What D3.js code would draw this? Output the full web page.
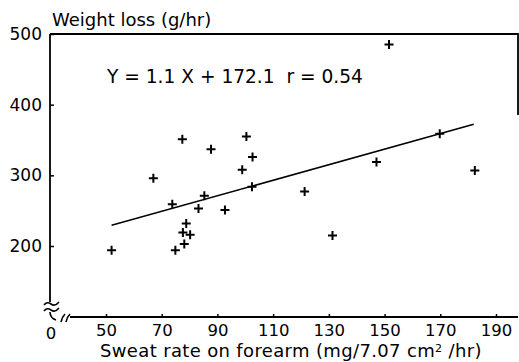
<!DOCTYPE html>
<html>
<head>
<meta charset="utf-8">
<script src="https://cdn.jsdelivr.net/npm/d3@7"></script>
<style>
body { margin: 0; background: white; }
text { font-family: "DejaVu Sans", sans-serif; fill: black; }
</style>
</head>
<body>
<div id="chart"></div>
<script>
// values
var sweat  = [52.0, 67.0, 73.8, 74.9, 77.4, 77.6, 78.1, 78.8, 80.2, 83.2, 85.3, 87.7,
              92.7, 98.9, 100.4, 102.4, 102.6, 121.3, 131.3, 147.1, 151.6, 169.8, 182.4]
var weight = [194, 296, 259, 194, 351, 219, 203, 232, 216, 253, 271, 337,
              251, 308, 355, 284, 326, 277, 215, 319, 485, 359, 307]
var xTicks = [50, 70, 90, 110, 130, 150, 170, 190]
var yTicks = [200, 300, 400, 500]
var fit = [1.1, 172.1]          // slope, intercept
var fitRange = [52, 182]
var equation = "Y = 1.1 X + 172.1  r = 0.54"

var width = 519, height = 362

var svg = d3.select("#chart").
			append("svg").
			attr("width", width).
			attr("height", height)

var x = d3.scaleLinear().domain([50, 190]).range([106, 496])
var y = d3.scaleLinear().domain([200, 500]).range([246, 34])

var axisX = 50, axisY = 317

//frame: top line and the short right edge
svg.append("path").
	attr("d", "M" + axisX + "," + y(500) + "H518V115").
	style("fill", "none").
	style("stroke", "black").
	style("stroke-width", 1.8)

//y axis line, stops above the break
svg.append("line").
	attr("x1", axisX).attr("x2", axisX).
	attr("y1", y(500)).attr("y2", 302).
	style("stroke", "black").
	style("stroke-width", 1.8)

//x axis line, starts after the break
svg.append("line").
	attr("x1", 70).attr("x2", 518).
	attr("y1", axisY).attr("y2", axisY).
	style("stroke", "black").
	style("stroke-width", 1.8)

//break marks
var brk = svg.append("g").
			style("fill", "none").
			style("stroke", "black").
			style("stroke-width", 1.6)
brk.append("path").attr("d", "M44,305 q3,-4 7,-1 t8,-2")
brk.append("path").attr("d", "M44,311 q3,-4 7,-1 t8,-2")
brk.append("path").attr("d", "M50,312 q0,6 6,8")
brk.append("path").attr("d", "M61,322 q1,-5 4,-8")
brk.append("path").attr("d", "M66,322 q1,-5 4,-8")

var gx = svg.append("g").
			attr("transform", "translate(0," + axisY + ")").
			call(d3.axisBottom(x).tickValues(xTicks).tickSize(-3).tickPadding(7))
gx.select(".domain").remove()
gx.selectAll("line").style("stroke-width", 1.5)
gx.selectAll("text").style("font-size", "16.5px").style("font-family", "DejaVu Sans")

var gy = svg.append("g").
			attr("transform", "translate(" + axisX + ",0)").
			call(d3.axisLeft(y).tickValues(yTicks).tickSize(-4).tickPadding(8))
gy.select(".domain").remove()
gy.selectAll("line").style("stroke-width", 1.5)
gy.selectAll("text").style("font-size", "17px").style("font-family", "DejaVu Sans")

//zero at the broken corner
svg.append("text").
	attr("x", 51).
	attr("y", 339).
	attr("text-anchor", "middle").
	style("font-size", "16.5px").
	text("0")

//axis titles
svg.append("text").
	attr("x", 52).
	attr("y", 26).
	style("font-size", "18px").
	text("Weight loss (g/hr)")

var xl = svg.append("text").
	attr("x", 100).
	attr("y", 357).
	style("font-size", "18px").
	style("letter-spacing", "0.35px")
xl.append("tspan").text("Sweat rate on forearm (mg/7.07 cm")
xl.append("tspan").text("2").attr("dy", -5).style("font-size", "11px")
xl.append("tspan").text(" /hr)").attr("dy", 5)

svg.append("text").
	attr("x", 107).
	attr("y", 83).
	style("font-size", "18.6px").
	style("white-space", "pre").
	text(equation)

//regression line
var line = d3.line().
			x(function(d){ return x(d) }).
			y(function(d){ return y(fit[0] * d + fit[1]) })
svg.append("path").
	attr("d", line(fitRange)).
	style("fill", "none").
	style("stroke", "black").
	style("stroke-width", 1.6)

//plus markers
var data = sweat.map(function(d, i){ return {x: d, y: weight[i]} })
var pts = svg.selectAll(".pt").
			data(data).
			enter().
			append("path").
			attr("class", "pt").
			attr("d", function(d){
				var px = x(d.x), py = y(d.y), r = 4.5
				return "M" + (px - r) + "," + py + "H" + (px + r) +
					"M" + px + "," + (py - r) + "V" + (py + r)
			}).
			style("stroke", "black").
			style("stroke-width", 2)
</script>
</body>
</html>
